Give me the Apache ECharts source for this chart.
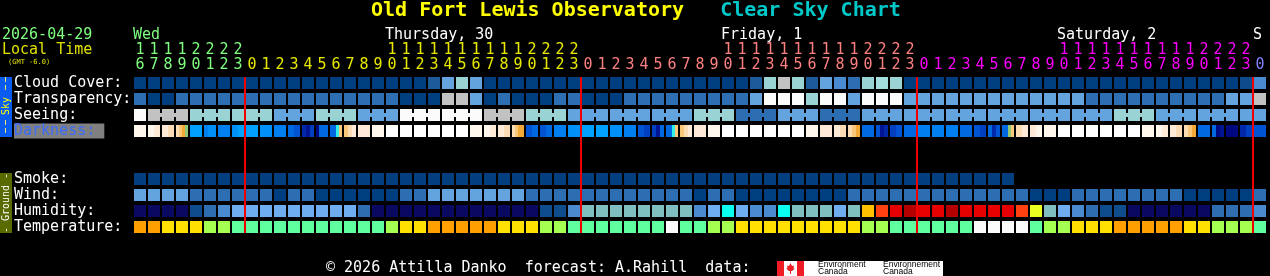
<!DOCTYPE html>
<html><head><meta charset="utf-8">
<script src="https://cdn.jsdelivr.net/npm/echarts@6/dist/echarts.min.js"></script>
<style>html,body{margin:0;padding:0;background:#000;}#c{width:1270px;height:276px;}</style>
</head><body><div id="c"></div>
<script>
// ---------- data ----------
const hours = [16,17,18,19,20,21,22,23,
  0,1,2,3,4,5,6,7,8,9,10,11,12,13,14,15,16,17,18,19,20,21,22,23,
  0,1,2,3,4,5,6,7,8,9,10,11,12,13,14,15,16,17,18,19,20,21,22,23,
  0,1,2,3,4,5,6,7,8,9,10,11,12,13,14,15,16,17,18,19,20,21,22,23,
  0];
const dayLabels = [[0,'Wed'],[18,'Thursday, 30'],[42,'Friday, 1'],[66,'Saturday, 2'],[80,'S']];
const dayColors = ['#80ff80','#e8e800','#ff8080','#ff00ff','#8080ff'];
const rowNames = ['Cloud Cover:','Transparency:','Seeing:','Darkness:',' ','  ','Smoke:','Wind:','Humidity:','Temperature:'];

// cloud cover level (0 clear .. 10 overcast)
const cloud = [0,0,0,0,0,0,0,0,0,0,0,0,0,0,0,0,0,0,0,0,0,
  2,5,6,5,
  0,0,0,0,0,0,0,0,0,0,0,0,0,0,0,0,0,0,0,
  2,6,8,6,2,5,4,3,6,7,6,
  0,0,0,0,0,0,0,0,0,0,0,0,0,0,0,0,0,0,0,0,0,0,0,0,
  1,4];
// transparency (0 transparent .. 5 too cloudy)
const transparency = [1,0,0,1,1,1,1,1,1,1,1,1,1,1,1,1,1,1,1,0,0,0,
  4,4,2,0,1,0,0,0,1,1,0,0,0,1,1,1,1,1,1,1,1,1,
  2,5,5,5,3,5,5,2,5,5,5,
  2,2,2,2,2,2,2,2,2,2,2,2,2,
  1,1,1,1,1,1,1,1,1,1,2,2,4];
// seeing (0 excellent .. 5 too cloudy), 3-hour blocks
const seeing = [5,4,4,4,3,3,3,3,3,3,2,2,2,3,3,3,2,2,2,5,5,5,5,5,5,4,4,4,3,3,3,
  2,2,2,2,2,2,2,2,2,3,3,3,1,1,1,2,2,2,1,1,1,
  2,2,2,2,2,2,2,2,2,2,2,2,2,2,2,2,2,2,3,3,3,2,2,2,2,2,2,2,2];
// darkness: per hour, sub-hour levels (0 day .. g darkest)
const darkness = ['1','12','23','3456','8','a99','a','98',
  '8','9','a','bc','efd','gbbb','bb74','432','2','1','0','0','0','0','0','0','1','12','23','3455','cb','cb','a','9',
  '8','8','9','a','cd','dfb','bb74','432','2','1','0','0','0','0','0','0','1','2','23','345','b','cfe','dc','b',
  'a','a','a','b','cd','bec','bb64','32','21','1','0','0','0','0','0','0','1','12','23','345','b','bgf','g','ed',
  'c'];
const smoke = [0,0,0,0,0,0,0,0,0,0,0,0,0,0,0,0,0,0,0,0,0,0,0,0,0,0,0,0,0,0,0,0,
  0,0,0,0,0,0,0,0,0,0,0,0,0,0,0,0,0,0,0,0,0,0,0,0,0,0,0,0,0,0,0];
const wind = [2,2,2,2,1,1,1,1,1,1,0,1,1,0,0,0,0,0,0,1,1,2,2,2,2,2,2,2,
  1,1,1,1,1,1,1,1,1,1,1,1,0,1,1,0,0,0,0,0,0,0,0,
  1,1,1,1,1,1,1,1,1,1,1,1,1,0,0,0,1,1,1,1,1,1,1,1,0,0,0,0,0,1];
const humidity = [0,0,0,0,1,2,3,4,4,4,4,4,4,4,4,4,2,0,0,0,0,0,0,0,0,0,0,0,0,
  1,1,3,5,5,5,5,5,5,5,5,3,4,6,4,3,3,6,5,5,5,4,
  5,8,9,10,11,10,10,11,10,10,10,10,9,7,5,4,3,2,1,1,0,0,0,0,0,0,2,2,2,3];
const temperature = [4,4,3,3,3,2,2,1,1,1,1,1,1,1,1,1,1,1,2,3,3,4,4,4,4,4,3,3,3,2,2,
  1,1,1,1,1,1,1,0,1,1,2,2,3,3,3,3,3,3,3,3,3,2,2,1,1,1,1,1,1,0,0,0,0,1,2,2,
  3,3,3,4,4,4,4,4,3,3,2,2,2,1];

// ---------- palettes ----------
const cloudPal = ['#003f7f','#0d4b8b','#1c5a9a','#2c6eb1','#4a8ad0','#63a4df','#99d3d3','#a4dede','#c2c2c2','#eaeaea','#fbfbfb'];
const skyPal = ['#003f7f','#2c6eb1','#63a4df','#99d3d3','#c2c2c2','#fbfbfb'];
const darkPal = {'0':'#ffffff','1':'#fff6ec','2':'#feead6','3':'#fcdcb4','4':'#f8c878','5':'#f4a838',
  '6':'#90c878','7':'#30f0e8','8':'#00a0ff','9':'#0090f8','a':'#0080f0','b':'#0068e0','c':'#0054d4',
  'd':'#0040c0','e':'#0028a8','f':'#001494','g':'#000880'};
const smokePal = ['#033f7f'];
const windPal = ['#003f7f','#2c6eb1','#63a4df'];
const humPal = ['#0a0860','#0f4c8c','#2d6db0','#4a8bd0','#6eaef0','#7fbfbf','#0afff0','#e8ff20','#ffc000','#ff4010','#e60000','#b40000'];
const tempPal = ['#fbfbfb','#5fffa0','#a4ff50','#ffe000','#ffa000'];

const MONO = 'DejaVu Sans Mono';
const dayOfCol = [];
hours.forEach((h, c) => { dayOfCol.push(c === 0 ? 0 : dayOfCol[c - 1] + (h === 0 ? 1 : 0)); });

function cellBox(api) {
  const c = api.value(0), r = api.value(1);
  const p = api.coord([c, r]);
  const s = api.size([1, 1]);
  const w = s[0] - 2, h = s[1] - 4;
  return {c, x: p[0] - w / 2, y: p[1] - h / 2, w, h, cy: p[1]};
}
function rowSeries(rowIdx, values, palette) {
  return {
    type: 'custom', silent: true, animation: false,
    data: values.map((v, c) => [c, rowIdx, v]),
    encode: {x: 0, y: 1},
    renderItem: (params, api) => {
      const b = cellBox(api);
      return {type: 'rect', shape: {x: b.x, y: b.y, width: b.w, height: b.h}, style: {fill: palette[api.value(2)]}};
    }
  };
}
const seeingSeries = {
  type: 'custom', silent: true, animation: false,
  data: seeing.map((v, c) => [c, 2, v]),
  encode: {x: 0, y: 1},
  renderItem: (params, api) => {
    const b = cellBox(api);
    const fill = skyPal[api.value(2)];
    const children = [{type: 'rect', shape: {x: b.x, y: b.y, width: b.w, height: b.h}, style: {fill}}];
    if (b.c + 1 < hours.length && hours[b.c + 1] % 3 !== 2) {
      children.push({type: 'rect', shape: {x: b.x + b.w, y: b.cy - 2, width: 2, height: 4}, style: {fill}});
    }
    return {type: 'group', children};
  }
};
const darkSeries = {
  type: 'custom', silent: true, animation: false,
  data: darkness.map((v, c) => [c, 3]),
  encode: {x: 0, y: 1},
  renderItem: (params, api) => {
    const b = cellBox(api);
    const lv = darkness[b.c];
    const n = lv.length;
    const children = [];
    for (let i = 0; i < n; i++) {
      const x0 = b.x + b.w * i / n, x1 = b.x + b.w * (i + 1) / n;
      children.push({type: 'rect', shape: {x: x0, y: b.y, width: x1 - x0 + (i < n - 1 ? 0.5 : 0), height: b.h}, style: {fill: darkPal[lv[i]]}});
    }
    return {type: 'group', children};
  }
};
const midnights = [];
hours.forEach((h, c) => { if (h === 0) midnights.push([c, 0]); });
const midnightSeries = {
  type: 'custom', silent: true, animation: false, z: 10,
  data: midnights, encode: {x: 0, y: 1},
  renderItem: (params, api) => {
    const c = api.value(0);
    const p0 = api.coord([c, 0]), p9 = api.coord([c, 9]);
    const s = api.size([1, 1]);
    const hh = s[1] - 4;
    return {type: 'rect', shape: {x: p0[0] - s[0] / 2 - 1, y: p0[1] - hh / 2, width: 2, height: p9[1] - p0[1] + hh}, style: {fill: '#ee0000'}};
  }
};

const dayAxisData = [];
for (let i = 0; i <= hours.length; i++) dayAxisData.push('');
dayLabels.forEach(([c, t]) => { dayAxisData[c] = t; });
const dayLabelColor = {};
dayLabels.forEach(([c, t], i) => { dayLabelColor[c] = dayColors[i]; });

const hiddenAxis = {axisLine: {show: false}, axisTick: {show: false}, splitLine: {show: false}};
const txt = (x, y, text, fill, font, extra) => Object.assign({type: 'text', x, y, silent: true,
  style: Object.assign({text, fill, font, textVerticalAlign: 'middle'}, extra || {})});

const chart = echarts.init(document.getElementById('c'), null, {renderer: 'canvas'});
chart.setOption({
  backgroundColor: '#000',
  animation: false,
  grid: {left: 133, right: 3, top: 75, height: 160, containLabel: false},
  xAxis: [
    Object.assign({type: 'category', data: hours, position: 'top', boundaryGap: true,
      axisLabel: {interval: 0, margin: 10, verticalAlign: 'middle', fontFamily: MONO, fontSize: 15,
        formatter: v => String(Number(v) % 10), color: (v, i) => dayColors[dayOfCol[i]]}}, hiddenAxis),
    Object.assign({type: 'category', data: hours, position: 'top', boundaryGap: true,
      axisLabel: {interval: 0, margin: 25, verticalAlign: 'middle', fontFamily: MONO, fontSize: 15,
        formatter: v => Number(v) >= 10 ? String(Math.floor(Number(v) / 10)) : '', color: (v, i) => dayColors[dayOfCol[i]]}}, hiddenAxis),
    Object.assign({type: 'category', data: dayAxisData, position: 'top', boundaryGap: false,
      axisLabel: {interval: (i) => dayAxisData[i] !== '', margin: 40, verticalAlign: 'middle', align: 'left',
        fontFamily: MONO, fontSize: 15, color: (v, i) => dayLabelColor[i] || '#fff'}}, hiddenAxis)
  ],
  yAxis: Object.assign({type: 'category', data: rowNames, inverse: true,
    axisLabel: {interval: 0, align: 'left', margin: 119, color: '#ffffff', fontFamily: MONO, fontSize: 15,
      formatter: v => v === 'Darkness:' ? '{dk|Darkness: }' : v,
      rich: {dk: {color: '#3a6cff', backgroundColor: '#808080', fontFamily: MONO, fontSize: 15, lineHeight: 15}}}}, hiddenAxis),
  series: [
    rowSeries(0, cloud, cloudPal),
    rowSeries(1, transparency, skyPal),
    seeingSeries,
    darkSeries,
    rowSeries(6, smoke, smokePal),
    rowSeries(7, wind, windPal),
    rowSeries(8, humidity, humPal),
    rowSeries(9, temperature, tempPal),
    midnightSeries
  ],
  graphic: [
    txt(371, 11, '{a|Old Fort Lewis Observatory}   {b|Clear Sky Chart}', '#ffff00', 'bold 20px ' + MONO,
      {rich: {a: {fill: '#ffff00', font: 'bold 20px ' + MONO}, b: {fill: '#00c8c8', font: 'bold 20px ' + MONO}}}),
    txt(2, 35, '2026-04-29', '#80ff80', '15px ' + MONO),
    txt(2, 50, 'Local Time', '#e0e000', '15px ' + MONO),
    txt(8, 62, '(GMT -6.0)', '#e0e000', '7px ' + MONO),
    // Sky strip
    {type: 'rect', silent: true, shape: {x: 0, y: 77, width: 12, height: 60}, style: {fill: '#0a5cf0'}},
    {type: 'rect', silent: true, shape: {x: 5, y: 77, width: 1, height: 5}, style: {fill: '#e8e870'}},
    {type: 'rect', silent: true, shape: {x: 5, y: 85, width: 1, height: 5}, style: {fill: '#e8e870'}},
    {type: 'rect', silent: true, shape: {x: 5, y: 120, width: 1, height: 5}, style: {fill: '#e8e870'}},
    {type: 'rect', silent: true, shape: {x: 5, y: 128, width: 1, height: 5}, style: {fill: '#e8e870'}},
    {type: 'text', silent: true, x: 6, y: 106, rotation: Math.PI / 2,
      style: {text: 'Sky', fill: '#ffff00', font: '10px ' + MONO, textAlign: 'center', textVerticalAlign: 'middle'}},
    // Ground strip
    {type: 'rect', silent: true, shape: {x: 0, y: 173, width: 12, height: 60}, style: {fill: '#596b00'}},
    {type: 'text', silent: true, x: 6, y: 203, rotation: Math.PI / 2,
      style: {text: '- Ground -', fill: '#ffffff', font: '10px ' + MONO, textAlign: 'center', textVerticalAlign: 'middle'}},
    // footer
    txt(326, 268, '\u00a9 2026 Attilla Danko  forecast: A.Rahill  data:', '#ffffff', '15px ' + MONO),
    {type: 'rect', silent: true, shape: {x: 777, y: 261, width: 166, height: 15}, style: {fill: '#ffffff'}},
    {type: 'rect', silent: true, shape: {x: 777, y: 261, width: 7, height: 15}, style: {fill: '#ee1c24'}},
    {type: 'rect', silent: true, shape: {x: 797, y: 261, width: 7, height: 15}, style: {fill: '#ee1c24'}},
    {type: 'polygon', silent: true, shape: {points: [[790.5,263],[792,266],[794,265.5],[793.5,268.5],[795,268.5],[792,271],[791,271],[791,274],[790,274],[790,271],[789,271],[786,268.5],[787.5,268.5],[787,265.5],[789,266]]}, style: {fill: '#ee1c24'}},
    txt(818, 265, 'Environment', '#000000', '8.5px "Liberation Sans"'),
    txt(818, 272, 'Canada', '#000000', '8.5px "Liberation Sans"'),
    txt(883, 265, 'Environnement', '#000000', '8.5px "Liberation Sans"'),
    txt(883, 272, 'Canada', '#000000', '8.5px "Liberation Sans"')
  ]
});
</script>
</body></html>
